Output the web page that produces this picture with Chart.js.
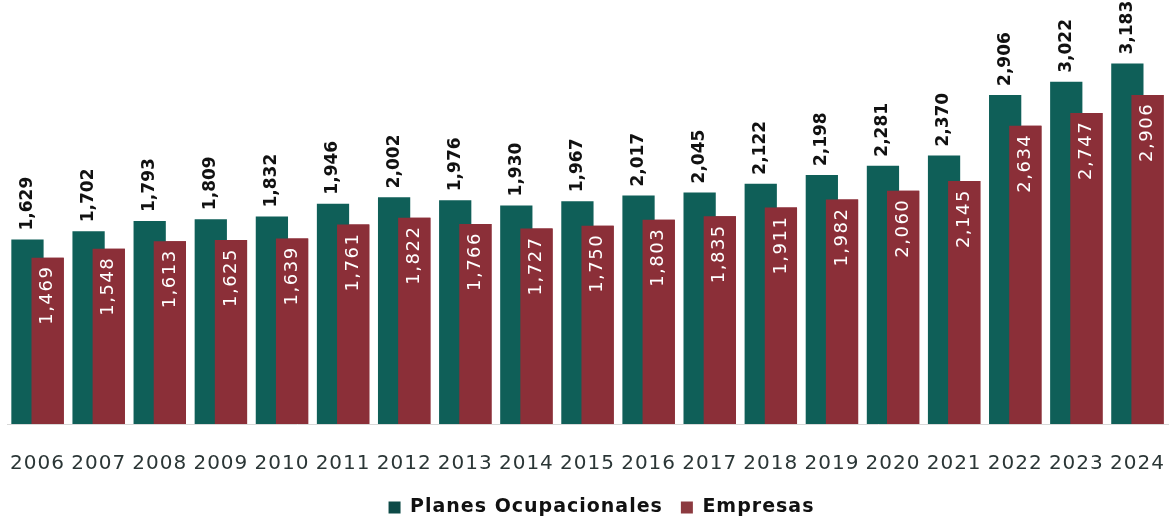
<!DOCTYPE html>
<html>
<head>
<meta charset="utf-8">
<script src="https://cdn.jsdelivr.net/npm/chart.js@4.4.1/dist/chart.umd.min.js"></script>
<style>
  html, body { margin: 0; padding: 0; background: #fff; }
  #wrap { width: 1172px; height: 519px; }
</style>
</head>
<body>
<div id="wrap"><canvas id="chart" width="1172" height="519"></canvas></div>
<script>
// data
const years = ["2006", "2007", "2008", "2009", "2010", "2011", "2012", "2013", "2014", "2015",
  "2016", "2017", "2018", "2019", "2020", "2021", "2022", "2023", "2024"];
const planes = [1629, 1702, 1793, 1809, 1832, 1946, 2002, 1976, 1930, 1967,
  2017, 2045, 2122, 2198, 2281, 2370, 2906, 3022, 3183];
const empresas = [1469, 1548, 1613, 1625, 1639, 1761, 1822, 1766, 1727, 1750,
  1803, 1835, 1911, 1982, 2060, 2145, 2634, 2747, 2906];

const fmt = v => v.toLocaleString("en-US");

// red bars must sit on top of the teal ones, then the rotated value labels
const valueLabels = {
  id: "valueLabels",
  beforeDraw(chart) {
    chart.ctx.letterSpacing = "1px";
  },
  afterDatasetsDraw(chart) {
    const ctx = chart.ctx;
    chart.getDatasetMeta(1).controller.draw();
    chart.data.datasets.forEach((ds, di) => {
      const meta = chart.getDatasetMeta(di);
      meta.data.forEach((bar, i) => {
        ctx.save();
        ctx.textBaseline = "middle";
        if (di === 0) {
          ctx.translate(bar.x, bar.y - 9);
          ctx.rotate(-Math.PI / 2);
          ctx.textAlign = "left";
          ctx.font = "bold 17px 'DejaVu Sans'";
          ctx.letterSpacing = "0px";
          ctx.fillStyle = "#111";
        } else {
          ctx.translate(bar.x, bar.y + 8);
          ctx.rotate(-Math.PI / 2);
          ctx.textAlign = "right";
          ctx.font = "18px 'DejaVu Sans'";
          ctx.letterSpacing = "1.5px";
          ctx.fillStyle = "#fff";
        }
        ctx.fillText(fmt(ds.data[i]), 0, 0);
        ctx.restore();
      });
    });
  }
};

new Chart(document.getElementById("chart"), {
  type: "bar",
  data: {
    labels: years,
    datasets: [
      {
        label: "Planes Ocupacionales",
        data: planes,
        backgroundColor: "#0f5f58",
        categoryPercentage: 0.66,
        barPercentage: 1.6
      },
      {
        label: "Empresas",
        data: empresas,
        backgroundColor: "#8b2f38",
        categoryPercentage: 0.66,
        barPercentage: 1.6
      }
    ]
  },
  options: {
    responsive: false,
    animation: false,
    layout: { padding: { left: 7, right: 4, top: 5, bottom: -8 } },
    plugins: {
      tooltip: { enabled: false },
      legend: {
        position: "bottom",
        labels: {
          boxWidth: 12,
          boxHeight: 12,
          padding: 18,
          color: "#111",
          font: { family: "'DejaVu Sans'", size: 19, weight: "bold" },
          generateLabels(chart) {
            const cols = ["#0d4a47", "#8c3a40"];
            return chart.data.datasets.map((ds, i) => ({
              text: ds.label,
              fillStyle: cols[i],
              strokeStyle: cols[i],
              lineWidth: 0,
              datasetIndex: i,
              fontColor: "#111"
            }));
          }
        }
      }
    },
    scales: {
      x: {
        grid: {
          display: true,
          drawOnChartArea: false,
          drawTicks: true,
          tickLength: 24,
          tickColor: "rgba(0,0,0,0)"
        },
        border: { display: true, color: "#d8d8d8" },
        ticks: {
          color: "#2b3636",
          padding: 4,
          maxRotation: 0,
          autoSkip: false,
          font: { family: "'DejaVu Sans'", size: 20 }
        }
      },
      y: {
        display: false,
        min: 0,
        max: 3700
      }
    }
  },
  plugins: [valueLabels]
});
</script>
</body>
</html>
